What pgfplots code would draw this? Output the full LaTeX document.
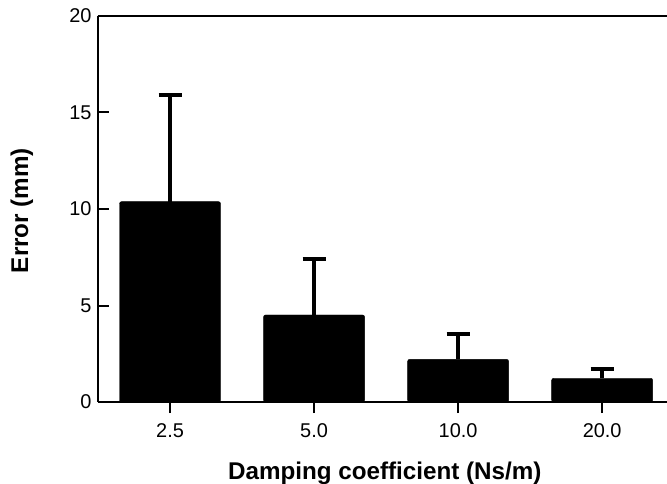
\documentclass[border=0pt]{standalone}
\usepackage{pgfplots}
\pgfplotsset{compat=1.18}
\usepackage{fontspec}
\setmainfont{Liberation Sans}
\begin{document}
\begin{tikzpicture}
\begin{axis}[
  name=ax,
  scale only axis,
  width=569bp, height=386bp,
  xmin=-0.5, xmax=3.45,
  ymin=0, ymax=20,
  axis x line*=bottom,
  axis y line*=left,
  axis line style={line width=2bp, -},
  clip=false,
  xtick={0,1,2,3},
  xticklabels={2.5,5.0,10.0,20.0},
  ytick={0,5,10,15,20},
  x tick style={line width=2bp, black},
  y tick style={line width=2bp, black},
  xtick align=outside,
  ytick align=inside,
  major tick length=11bp,
  /pgf/number format/assume math mode=true,
  tick label style={font=\fontsize{20}{23}\selectfont},
  xticklabel style={yshift=-7bp},
  yticklabel style={xshift=-3bp},
  xlabel={Damping coefficient (Ns/m)},
  ylabel={Error (mm)},
  label style={font=\fontsize{24.3}{28}\selectfont\bfseries},
  xlabel style={at={(axis description cs:0.504,-0.1995)}, anchor=base},
  ylabel style={at={(axis description cs:-0.1336,0.496)}, anchor=center},
  ybar,
  bar width=101bp,
]
\addplot[fill=black, draw=black, rounded corners=2bp,
  error bars/.cd, y dir=plus, y explicit,
  error bar style={line width=3.5bp, black, sharp corners},
  error mark options={rotate=90, mark size=11.5bp, line width=4bp, black}]
  coordinates {
  (0,10.38) +- (0,5.51)
  (1,4.51) +- (0,2.90)
  (2,2.21) +- (0,1.31)
  (3,1.23) +- (0,0.50)
};
\draw[line width=2bp] (rel axis cs:0,1) -- (rel axis cs:1,1);
\end{axis}
\pgfresetboundingbox
\path ([xshift=-98bp,yshift=-82bp]ax.south west) rectangle ([yshift=16bp]ax.north east);
\end{tikzpicture}
\end{document}
